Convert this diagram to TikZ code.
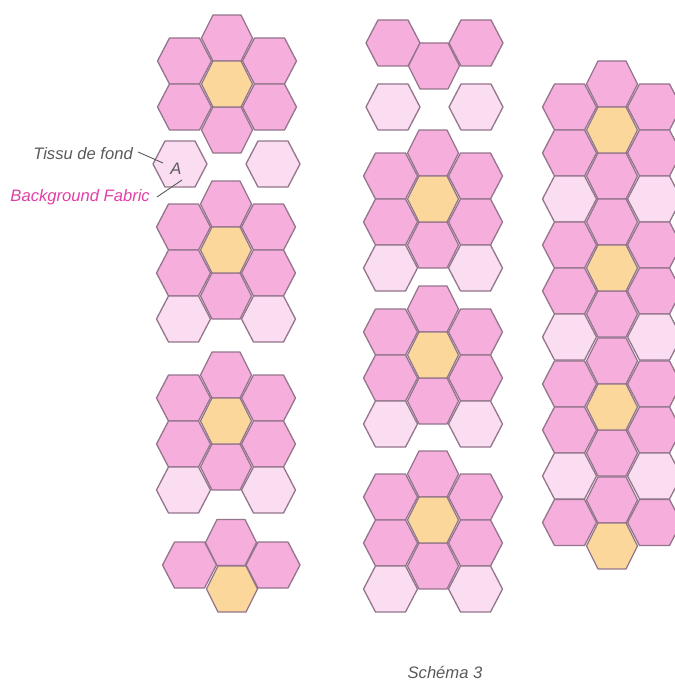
\documentclass[tikz,border=0pt]{standalone}
\usepackage{fontspec}
\setmainfont{Liberation Sans}
\definecolor{hpink}{HTML}{F6AEDD}
\definecolor{hlight}{HTML}{FBDDF1}
\definecolor{hyellow}{HTML}{FBD79B}
\definecolor{hline}{HTML}{93758C}
\definecolor{hmag}{HTML}{E23FA5}
\definecolor{hgray}{HTML}{5A5A5A}
\newcommand{\hexa}[5]{\draw[hexline,fill=#5] (#1-#3,#2) -- (#1-#4,#2-23) -- (#1+#4,#2-23) -- (#1+#3,#2) -- (#1+#4,#2+23) -- (#1-#4,#2+23) -- cycle;}
\newcommand{\hc}[3]{\hexa{#1}{#2}{25.5}{14}{#3}}
\newcommand{\hs}[3]{\hexa{#1}{#2}{27}{15}{#3}}
% flower: centre x, yellow y
\newcommand{\flower}[2]{%
  \hc{#1}{#2-46}{hpink}
  \hs{#1-42.5}{#2-23}{hpink}\hs{#1+42.5}{#2-23}{hpink}
  \hs{#1-42.5}{#2+23}{hpink}\hs{#1+42.5}{#2+23}{hpink}
  \hc{#1}{#2+46}{hpink}
  \hc{#1}{#2}{hyellow}}
\newcommand{\lights}[2]{\hs{#1-42.5}{#2+69}{hlight}\hs{#1+42.5}{#2+69}{hlight}}
\tikzset{
  hexline/.style={draw=hline,line width=1.3pt,line join=round},
  leader/.style={draw=hgray,line width=0.9pt},
  lab/.style={font=\fontsize{16.6}{20}\selectfont\itshape,inner sep=0pt}
}
\begin{document}
\begin{tikzpicture}[x=1pt,y=-1pt]
\useasboundingbox (0,0) rectangle (674,682);
% column 1
\flower{227}{84}
\hs{180}{164}{hlight}\hs{273}{164}{hlight}
\flower{226}{250}\lights{226}{250}
\flower{226}{421}\lights{226}{421}
\hs{189.5}{565}{hpink}\hs{273}{565}{hpink}
\hc{231}{542.5}{hpink}\hc{232}{589}{hyellow}
% column 2
\hs{393}{43}{hpink}\hs{476}{43}{hpink}\hc{434}{66}{hpink}
\hs{393}{107}{hlight}\hs{476}{107}{hlight}
\flower{433}{199}\lights{433}{199}
\flower{433}{355}\lights{433}{355}
\flower{433}{520}\lights{433}{520}
% column 3
\flower{612}{130}
\hs{569.5}{199}{hlight}\hs{654.5}{199}{hlight}
\flower{612}{268}
\hs{569.5}{337}{hlight}\hs{654.5}{337}{hlight}
\flower{612}{407}
\hs{569.5}{476}{hlight}\hs{654.5}{476}{hlight}
\hs{569.5}{522.5}{hpink}\hs{654.5}{522.5}{hpink}
\hc{612}{500}{hpink}\hc{612}{546}{hyellow}
% labels
\node[lab,text=hgray,anchor=east] (tissu) at (133,154) {Tissu de fond};
\node[lab,text=hmag,anchor=east] (back) at (150,197) {Background Fabric};
\node[lab,text=hgray] (a) at (176,169) {A};
\coordinate (t1) at (163,163);
\coordinate (b1) at (182,180);
\draw[leader] (tissu.east) ++(5,-2) -- (t1);
\draw[leader] (back.east) ++(7,0) -- (b1);
\node[lab,text=hgray] (schema) at (445,672) {Schéma 3};
\end{tikzpicture}
\end{document}
